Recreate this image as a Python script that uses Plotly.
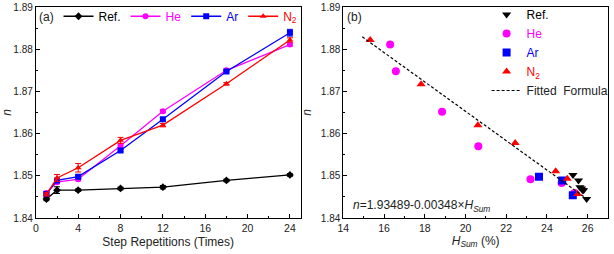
import plotly.graph_objects as go

# ---------------- data: panel (a) ----------------
reps = [1, 2, 4, 8, 12, 18, 24]
ref_n = [1.8445, 1.8466, 1.8466, 1.8470, 1.8473, 1.8489, 1.8502]
ref_err = [0.0004, 0.0008, 0.0003, 0.0003, 0.0004, 0.0003, 0.0003]
he_n = [1.8459, 1.8485, 1.8492, 1.8571, 1.8653, 1.8750, 1.8811]
he_err = [0.0004, 0.0004, 0.0004, 0.0004, 0.0004, 0.0003, 0.0004]
ar_n = [1.8457, 1.8489, 1.8498, 1.8560, 1.8634, 1.8747, 1.8839]
ar_err = [0.0003, 0.0004, 0.0004, 0.0003, 0.0004, 0.0003, 0.0008]
n2_n = [1.8456, 1.8495, 1.8519, 1.8584, 1.8620, 1.8718, 1.8822]
n2_err = [0.0004, 0.0008, 0.0010, 0.0007, 0.0004, 0.0003, 0.0005]

# ---------------- data: panel (b) ----------------
ref_h = [25.95, 25.80, 25.75, 25.70, 25.62, 25.55, 25.28]
ref_nb = [1.8445, 1.8466, 1.8466, 1.8470, 1.8473, 1.8489, 1.8502]
he_h = [25.35, 24.72, 23.19, 20.63, 18.85, 16.58, 16.30]
he_nb = [1.8459, 1.8483, 1.8492, 1.8570, 1.8652, 1.8748, 1.8811]
ar_h = [25.27, 24.75, 23.61]
ar_nb = [1.8454, 1.8489, 1.8498]
n2_h = [25.51, 25.00, 24.43, 22.44, 20.61, 17.82, 15.32]
n2_nb = [1.8457, 1.8493, 1.8511, 1.8578, 1.8620, 1.8717, 1.8822]
fit_a, fit_b = 1.93489, 0.00348
fit_h = [14.93, 26.0]
fit_n = [fit_a - fit_b * h for h in fit_h]

FONT = "Arial, Liberation Sans, sans-serif"
MAG, BLU, RED, BLK = "#FF00FF", "#0000FF", "#FF0000", "#000000"
TXT = "#222222"


def colored(txt, c):
    return f"<span style='color:{c}'>{txt}</span>"


fig = go.Figure()

series_a = [
    ("Ref.", ref_n, ref_err, BLK, "diamond"),
    ("He", he_n, he_err, MAG, "circle"),
    ("Ar", ar_n, ar_err, BLU, "square"),
    ("N<sub>2</sub>", n2_n, n2_err, RED, "triangle-up"),
]
for name, ys, errs, c, sym in series_a:
    fig.add_trace(go.Scatter(
        x=reps, y=ys, mode="lines+markers", name=colored(name, c),
        line=dict(color=c, width=1.3),
        marker=dict(symbol=sym, size=6, color=c),
        error_y=dict(type="data", array=errs, color=c, thickness=1, width=3),
        xaxis="x", yaxis="y", legend="legend",
    ))

series_b = [
    ("Ref.", ref_h, ref_nb, BLK, "triangle-down"),
    ("He", he_h, he_nb, MAG, "circle"),
    ("Ar", ar_h, ar_nb, BLU, "square"),
    ("N<sub>2</sub>", n2_h, n2_nb, RED, "triangle-up"),
]
for name, xs, ys, c, sym in series_b:
    fig.add_trace(go.Scatter(
        x=xs, y=ys, mode="markers", name=colored(name, c),
        marker=dict(symbol=sym, size=8, color=c),
        xaxis="x2", yaxis="y2", legend="legend2",
    ))
fig.add_trace(go.Scatter(
    x=fit_h, y=fit_n, mode="lines", name="Fitted  Formula",
    line=dict(color=BLK, width=1.2, dash="3px,2px"),
    xaxis="x2", yaxis="y2", legend="legend2",
))

W, H = 614, 254
ax_common = dict(
    showline=True, linecolor="black", linewidth=1, mirror=True,
    ticks="inside", ticklen=4, tickcolor="black", showgrid=False, zeroline=False,
    tickfont=dict(family=FONT, size=10.5, color=TXT),
    automargin=False,
)
yax = dict(ax_common, range=[1.84, 1.89], dtick=0.01, tickformat=".2f",
           tickfont=dict(family=FONT, size=10, color=TXT),
           minor=dict(dtick=0.005, ticks="inside", ticklen=2, tickcolor="black"),
           title=dict(text="<i>n</i>", font=dict(family=FONT, size=12, color=TXT), standoff=6))

fig.update_layout(
    width=W, height=H,
    margin=dict(l=0, r=0, t=6, b=36),
    paper_bgcolor="white", plot_bgcolor="white",
    font=dict(family=FONT, size=12, color=TXT),
    xaxis=dict(ax_common, domain=[36 / W, 302 / W], range=[0, 25], dtick=4, tick0=0,
               minor=dict(dtick=2, ticks="inside", ticklen=2, tickcolor="black"),
               title=dict(text="Step Repetitions (Times)",
                          font=dict(family=FONT, size=12, color=TXT), standoff=5),
               anchor="y"),
    yaxis=dict(yax, domain=[0, 1], anchor="x"),
    xaxis2=dict(ax_common, domain=[345 / W, 611 / W], range=[14, 27], dtick=2, tick0=14,
                minor=dict(dtick=1, ticks="inside", ticklen=2, tickcolor="black"),
                title=dict(text="<i>H</i><sub><i>Sum</i></sub> (%)",
                           font=dict(family=FONT, size=12, color=TXT), standoff=3),
                anchor="y2"),
    yaxis2=dict(yax, domain=[0, 1], anchor="x2"),
    legend=dict(orientation="h", x=304 / W, xanchor="right", y=1.025, yanchor="top",
                bgcolor="rgba(0,0,0,0)", font=dict(family=FONT, size=12),
                itemwidth=30, tracegroupgap=0),
    legend2=dict(orientation="v", x=489 / W, xanchor="left", y=1.035, yanchor="top",
                 bgcolor="rgba(0,0,0,0)", font=dict(family=FONT, size=12),
                 itemwidth=30, tracegroupgap=0),
    annotations=[
        dict(text="(a)", xref="x domain", yref="y domain", x=0.005, y=0.995,
             xanchor="left", yanchor="top", showarrow=False,
             font=dict(family=FONT, size=12, color=TXT)),
        dict(text="(b)", xref="x2 domain", yref="y2 domain", x=0.005, y=0.995,
             xanchor="left", yanchor="top", showarrow=False,
             font=dict(family=FONT, size=12, color=TXT)),
        dict(text="<i>n</i>=1.93489-0.00348×<i>H</i><sub><i>Sum</i></sub>",
             xref="x2", yref="y2", x=14.4, y=1.8428, xanchor="left", yanchor="middle",
             showarrow=False, font=dict(family=FONT, size=12, color=TXT)),
    ],
)

fig.write_html("out.html", config={"displayModeBar": False},
               post_script="document.body.style.margin='0';")
